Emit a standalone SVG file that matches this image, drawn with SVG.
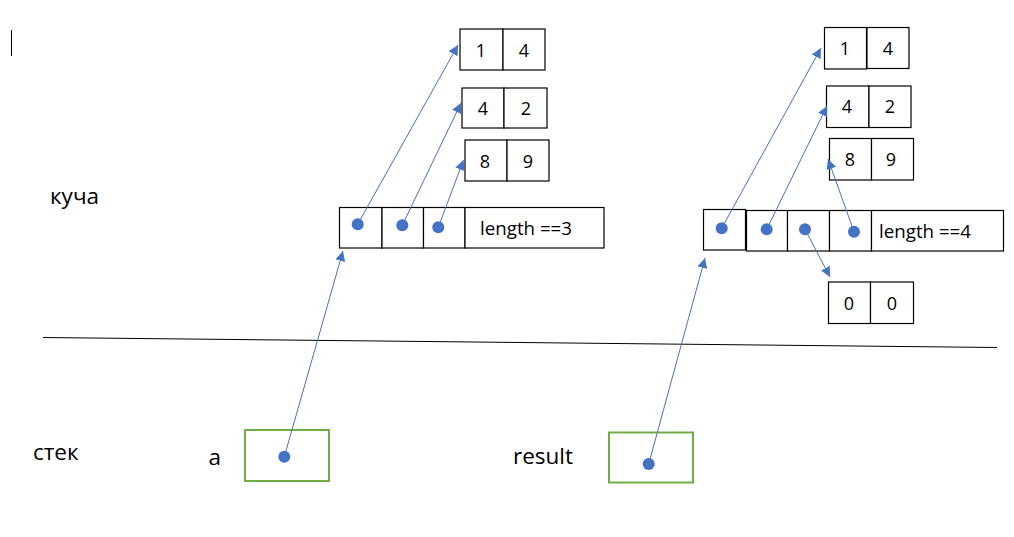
<svg xmlns="http://www.w3.org/2000/svg" width="1014" height="537" viewBox="0 0 1014 537">
<style>
.cell{fill:#fff;stroke:#000;stroke-width:1.2}
.var{fill:#fff;stroke:#70AD47;stroke-width:2}
.t{font-family:"Open Sans","Liberation Sans",sans-serif;font-size:18px;fill:#000}
.len{font-family:"Open Sans","Liberation Sans",sans-serif;font-size:17.5px;fill:#000}
.lbl{font-family:"Open Sans","Liberation Sans",sans-serif;font-size:22.5px;fill:#000}
.dot{fill:#4472C4}
.arr{stroke:#4472C4;stroke-width:1;fill:none;marker-end:url(#ah)}
</style>
<defs>
<marker id="ah" viewBox="0 0 10 10" refX="10" refY="5" markerWidth="10" markerHeight="10" markerUnits="userSpaceOnUse" orient="auto">
<path d="M0,0 L10,5 L0,10 z" fill="#4472C4"/>
</marker>
</defs>
<rect width="1014" height="537" fill="#fff"/>
<line x1="11.5" y1="30" x2="11.5" y2="56" stroke="#000" stroke-width="1"/>
<g id="labels">
<text class="lbl" x="50" y="203.5">куча</text>
<text class="lbl" x="33" y="459.5">стек</text>
<text class="lbl" x="208.5" y="465">a</text>
<text class="lbl" x="513" y="463.5">result</text>
</g>
<line id="divider" x1="43" y1="337.5" x2="997" y2="347.5" stroke="#000" stroke-width="1"/>
<g id="L14">
<rect class="cell" x="460" y="29" width="43" height="41"/>
<rect class="cell" x="503" y="29" width="42" height="41"/>
<text class="t" x="481" y="56.5" text-anchor="middle">1</text>
<text class="t" x="524" y="56.5" text-anchor="middle">4</text>
</g>
<g id="L42">
<rect class="cell" x="462" y="88" width="42" height="40"/>
<rect class="cell" x="504" y="88" width="43" height="40"/>
<text class="t" x="483" y="114.5" text-anchor="middle">4</text>
<text class="t" x="526" y="114.5" text-anchor="middle">2</text>
</g>
<g id="L89">
<rect class="cell" x="465" y="140" width="42" height="41"/>
<rect class="cell" x="507" y="140" width="42" height="41"/>
<text class="t" x="485" y="167.5" text-anchor="middle">8</text>
<text class="t" x="528" y="167.5" text-anchor="middle">9</text>
</g>
<g id="Larr">
<rect class="cell" x="339.5" y="207.5" width="42.5" height="40.5"/>
<rect class="cell" x="382" y="207.5" width="41.5" height="40.5"/>
<rect class="cell" x="423.5" y="207.5" width="41.5" height="40.5"/>
<rect class="cell" x="465" y="207.5" width="139" height="40.5"/>
<text class="len" x="480" y="235" textLength="92" lengthAdjust="spacingAndGlyphs">length ==3</text>
</g>
<g id="R14">
<rect class="cell" x="824.5" y="27.5" width="42" height="41.5"/>
<rect class="cell" x="867" y="27.5" width="42" height="41"/>
<text class="t" x="845" y="55" text-anchor="middle">1</text>
<text class="t" x="888" y="55" text-anchor="middle">4</text>
</g>
<g id="R42">
<rect class="cell" x="826.5" y="86" width="42.5" height="41.5"/>
<rect class="cell" x="869" y="86" width="42" height="41.5"/>
<text class="t" x="847" y="113" text-anchor="middle">4</text>
<text class="t" x="890" y="113" text-anchor="middle">2</text>
</g>
<g id="R89">
<rect class="cell" x="829.5" y="138.5" width="42" height="41.5"/>
<rect class="cell" x="871.5" y="138.5" width="42" height="41.5"/>
<text class="t" x="850" y="166" text-anchor="middle">8</text>
<text class="t" x="891" y="166" text-anchor="middle">9</text>
</g>
<g id="Rarr">
<rect class="cell" x="703.5" y="209.5" width="42" height="40.5"/>
<rect class="cell" x="746.5" y="210.5" width="41" height="40.5"/>
<rect class="cell" x="787.5" y="210.5" width="42" height="40.5"/>
<rect class="cell" x="829.5" y="210.5" width="42" height="40.5"/>
<rect class="cell" x="871.5" y="210.5" width="132" height="40.5"/>
<text class="len" x="879" y="238" textLength="92" lengthAdjust="spacingAndGlyphs">length ==4</text>
</g>
<g id="R00">
<rect class="cell" x="828.5" y="282" width="42" height="41.5"/>
<rect class="cell" x="870.5" y="282" width="43" height="41.5"/>
<text class="t" x="849" y="309.5" text-anchor="middle">0</text>
<text class="t" x="892" y="309.5" text-anchor="middle">0</text>
</g>
<g id="var_a">
<rect class="var" x="245" y="430" width="84" height="51"/>
</g>
<g id="var_result">
<rect class="var" x="609" y="432.5" width="84" height="50"/>
</g>
<g id="connectors">
<line class="arr" x1="357.7" y1="224.3" x2="458" y2="45"/>
<line class="arr" x1="402.3" y1="225.3" x2="461" y2="103"/>
<line class="arr" x1="438.3" y1="227.3" x2="463.5" y2="160"/>
<line class="arr" x1="284.3" y1="456.7" x2="343" y2="251"/>
<line class="arr" x1="721.7" y1="228.3" x2="821" y2="48"/>
<line class="arr" x1="766.7" y1="229.3" x2="827" y2="106"/>
<line class="arr" x1="805" y1="229.3" x2="830" y2="277"/>
<line class="arr" x1="854" y1="231.7" x2="828" y2="159"/>
<line class="arr" x1="648.7" y1="464" x2="705" y2="258"/>
</g>
<g id="dots">
<circle class="dot" cx="357.7" cy="224.3" r="6"/>
<circle class="dot" cx="402.3" cy="225.3" r="6"/>
<circle class="dot" cx="438.3" cy="227.3" r="6"/>
<circle class="dot" cx="284.3" cy="456.7" r="6"/>
<circle class="dot" cx="721.7" cy="228.3" r="6"/>
<circle class="dot" cx="766.7" cy="229.3" r="6"/>
<circle class="dot" cx="805" cy="229.3" r="6"/>
<circle class="dot" cx="854" cy="231.7" r="6"/>
<circle class="dot" cx="648.7" cy="464" r="6"/>
</g>
</svg>
